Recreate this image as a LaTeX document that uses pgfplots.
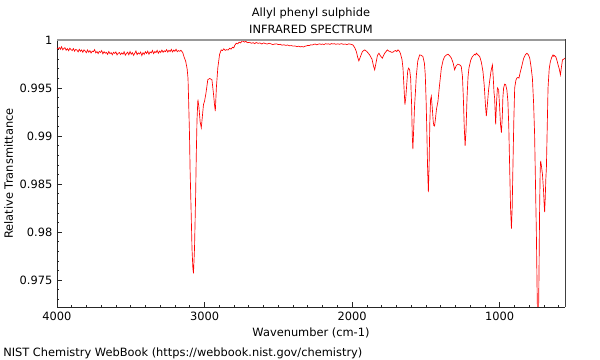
\documentclass[border=0pt]{standalone}
\usepackage{fontspec}
\setmainfont{DejaVu Sans}
\usepackage{pgfplots}
\pgfplotsset{compat=1.18}
\begin{document}
\begin{tikzpicture}[font=\fontsize{8.55}{10}\selectfont]
\useasboundingbox (0,0) rectangle (450pt,270pt);
\begin{axis}[
  at={(42.75pt,39.75pt)}, anchor=south west,
  scale only axis, width=381pt, height=200.25pt,
  x dir=reverse, xmin=557, xmax=4000, ymin=0.9722, ymax=1,
  xtick={1000,2000,3000,4000},
  minor xtick={600,700,800,900,1100,1200,1300,1400,1500,1600,1700,1800,1900,2100,2200,2300,2400,2500,2600,2700,2800,2900,3100,3200,3300,3400,3500,3600,3700,3800,3900},
  ytick={0.975,0.98,0.985,0.99,0.995,1},
  minor ytick={0.973,0.974,0.976,0.977,0.978,0.979,0.981,0.982,0.983,0.984,0.986,0.987,0.988,0.989,0.991,0.992,0.993,0.994,0.996,0.997,0.998,0.999},
  tick align=inside, major tick length=3.5pt, minor tick length=1.8pt,
  every tick/.style={black!85, line width=0.5pt},
  axis x line*=bottom, axis y line*=left,
  axis line style={black!85, line width=0.6pt},
  /pgf/number format/assume math mode=true,
  /pgf/number format/1000 sep={},
  yticklabel style={/pgf/number format/fixed, /pgf/number format/precision=3},
  xlabel={Wavenumber (cm-1)},
  ylabel={Relative Transmittance},
  xlabel style={yshift=1pt},
  ylabel style={yshift=-2pt},
]
\addplot[red, line width=0.5pt] table {
4000 0.99915
3992 0.99908
3984 0.99922
3977 0.99903
3969 0.99930
3961 0.99898
3953 0.99912
3946 0.99920
3938 0.99893
3930 0.99910
3921 0.99888
3913 0.99915
3905 0.99900
3897 0.99890
3889 0.99911
3881 0.99884
3873 0.99902
3865 0.99895
3857 0.99876
3849 0.99903
3841 0.99882
3833 0.99896
3825 0.99872
3817 0.99898
3809 0.99885
3801 0.99868
3793 0.99896
3785 0.99873
3777 0.99889
3769 0.99865
3761 0.99884
3753 0.99878
3745 0.99900
3737 0.99866
3729 0.99880
3721 0.99858
3713 0.99882
3705 0.99870
3697 0.99889
3689 0.99856
3681 0.99878
3673 0.99862
3665 0.99871
3657 0.99850
3649 0.99880
3641 0.99858
3633 0.99868
3625 0.99846
3617 0.99872
3609 0.99860
3601 0.99876
3593 0.99845
3585 0.99862
3577 0.99870
3569 0.99848
3561 0.99866
3553 0.99852
3545 0.99878
3537 0.99842
3529 0.99860
3521 0.99872
3513 0.99846
3505 0.99880
3497 0.99852
3489 0.99868
3481 0.99840
3473 0.99862
3465 0.99885
3457 0.99848
3449 0.99866
3441 0.99855
3433 0.99874
3425 0.99838
3417 0.99868
3409 0.99850
3401 0.99878
3393 0.99860
3385 0.99883
3377 0.99852
3369 0.99876
3361 0.99866
3353 0.99890
3345 0.99858
3337 0.99880
3329 0.99868
3321 0.99892
3313 0.99862
3305 0.99884
3297 0.99870
3289 0.99895
3281 0.99872
3273 0.99888
3265 0.99878
3257 0.99900
3249 0.99874
3241 0.99893
3233 0.99880
3225 0.99902
3217 0.99876
3209 0.99895
3201 0.99883
3193 0.99904
3185 0.99878
3177 0.99890
3168 0.99882
3160 0.99893
3148 0.99870
3138 0.99820
3128 0.99780
3118 0.99700
3112 0.99600
3108 0.99380
3102 0.99018
3098 0.98655
3090 0.98159
3085 0.97828
3079 0.97621
3075 0.97570
3068 0.97828
3061 0.98328
3056 0.98800
3051 0.99173
3045 0.99380
3038 0.99300
3030 0.99150
3022 0.99087
3015 0.99200
3007 0.99330
3000 0.99362
2990 0.99450
2978 0.99586
2965 0.99600
2950 0.99586
2940 0.99450
2932 0.99320
2927 0.99259
2920 0.99500
2910 0.99710
2898 0.99850
2887 0.99897
2878 0.99890
2870 0.99908
2860 0.99892
2850 0.99900
2840 0.99895
2830 0.99914
2820 0.99905
2810 0.99925
2802 0.99918
2795 0.99945
2785 0.99966
2775 0.99960
2765 0.99978
2755 0.99970
2748 0.99985
2740 0.99990
2730 0.99978
2720 0.99986
2710 0.99972
2695 0.99976
2683 0.99966
2670 0.99972
2660 0.99962
2650 0.99974
2637 0.99965
2625 0.99970
2612 0.99958
2600 0.99970
2587 0.99962
2575 0.99958
2562 0.99966
2550 0.99960
2537 0.99952
2525 0.99958
2512 0.99960
2500 0.99952
2487 0.99955
2475 0.99946
2462 0.99950
2450 0.99944
2437 0.99948
2425 0.99940
2412 0.99942
2400 0.99936
2387 0.99938
2375 0.99932
2362 0.99935
2350 0.99928
2340 0.99932
2330 0.99927
2320 0.99935
2310 0.99938
2300 0.99944
2290 0.99942
2280 0.99950
2270 0.99948
2260 0.99955
2250 0.99958
2240 0.99950
2230 0.99956
2220 0.99960
2210 0.99954
2200 0.99958
2190 0.99952
2180 0.99962
2170 0.99957
2160 0.99960
2150 0.99954
2140 0.99963
2130 0.99958
2120 0.99962
2110 0.99955
2098 0.99960
2085 0.99956
2072 0.99962
2060 0.99955
2047 0.99958
2035 0.99952
2022 0.99960
2010 0.99956
2000 0.99952
1994 0.99948
1982 0.99920
1971 0.99879
1962 0.99820
1954 0.99783
1945 0.99820
1930 0.99880
1915 0.99897
1900 0.99880
1881 0.99845
1865 0.99800
1855 0.99730
1847 0.99690
1838 0.99760
1828 0.99840
1818 0.99862
1808 0.99835
1795 0.99811
1780 0.99860
1761 0.99897
1752 0.99885
1742 0.99880
1733 0.99872
1723 0.99873
1714 0.99885
1705 0.99890
1697 0.99880
1689 0.99897
1680 0.99885
1673 0.99862
1662 0.99800
1655 0.99707
1648 0.99500
1642 0.99328
1636 0.99400
1630 0.99530
1623 0.99680
1617 0.99707
1610 0.99690
1603 0.99600
1597 0.99350
1592 0.99000
1588 0.98863
1583 0.99050
1577 0.99300
1571 0.99450
1565 0.99620
1555 0.99780
1542 0.99845
1530 0.99840
1520 0.99827
1510 0.99760
1504 0.99638
1498 0.99350
1493 0.99018
1488 0.98650
1483 0.98415
1478 0.98700
1473 0.99150
1468 0.99380
1463 0.99414
1457 0.99300
1450 0.99150
1446 0.99110
1441 0.99104
1435 0.99180
1428 0.99280
1418 0.99362
1408 0.99520
1395 0.99707
1383 0.99790
1373 0.99827
1360 0.99845
1350 0.99852
1338 0.99835
1327 0.99811
1315 0.99760
1305 0.99690
1295 0.99730
1283 0.99749
1270 0.99740
1260 0.99724
1252 0.99620
1246 0.99400
1240 0.99100
1234 0.98897
1228 0.99050
1221 0.99400
1214 0.99620
1208 0.99707
1196 0.99790
1185 0.99827
1176 0.99840
1170 0.99852
1163 0.99845
1158 0.99862
1146 0.99845
1135 0.99827
1124 0.99770
1113 0.99672
1104 0.99520
1096 0.99320
1090 0.99207
1083 0.99330
1075 0.99480
1068 0.99569
1058 0.99680
1049 0.99741
1043 0.99600
1038 0.99450
1034 0.99397
1027 0.99121
1021 0.99350
1015 0.99501
1007 0.99483
1000 0.99300
994 0.99120
988 0.99035
982 0.99200
978 0.99400
973 0.99501
966 0.99540
959 0.99535
951 0.99480
944 0.99362
938 0.99100
932 0.98673
926 0.98250
920 0.98035
915 0.98250
910 0.98673
904 0.99150
898 0.99501
890 0.99580
883 0.99604
876 0.99610
869 0.99604
861 0.99660
853 0.99707
845 0.99760
837 0.99811
826 0.99845
815 0.99862
805 0.99845
796 0.99811
787 0.99720
778 0.99604
770 0.99350
763 0.99018
757 0.98500
751 0.97983
746 0.97400
742 0.97000
737 0.97050
733 0.97600
729 0.98250
725 0.98650
722 0.98742
716 0.98680
710 0.98604
703 0.98450
698 0.98280
695 0.98207
691 0.98350
687 0.98550
683 0.98673
678 0.99050
672 0.99501
664 0.99700
656 0.99776
647 0.99820
638 0.99845
633 0.99830
629 0.99838
620 0.99827
612 0.99790
604 0.99741
596 0.99700
588 0.99638
581 0.99720
574 0.99793
566 0.99800
557 0.99811
};
\end{axis}
\draw[black!40, line width=1.5pt] (42.75pt,240pt) -- (423.75pt,240pt);
\draw[black!75, line width=0.6pt] (423.75pt,39.75pt) -- (423.75pt,240.5pt);
\node at (233.25pt,260.25pt) {Allyl phenyl sulphide};
\node at (233.25pt,248.25pt) {INFRARED SPECTRUM};
\node[anchor=west, inner sep=0pt] at (2.25pt,5.25pt) {NIST Chemistry WebBook (https://webbook.nist.gov/chemistry)};
\end{tikzpicture}
\end{document}
